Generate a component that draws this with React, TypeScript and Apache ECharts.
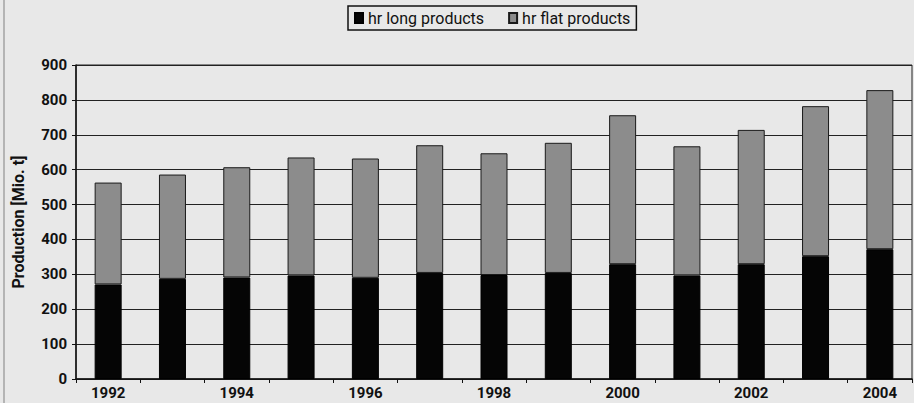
import React, { useEffect, useRef } from "react";
import * as echarts from "echarts";

const years = ["1992", "1993", "1994", "1995", "1996", "1997", "1998", "1999", "2000", "2001", "2002", "2003", "2004"];
const longProducts = [271, 287, 291, 297, 290, 304, 298, 304, 329, 297, 329, 352, 372];
const flatProducts = [292, 299, 316, 338, 342, 366, 349, 373, 427, 370, 385, 430, 456];
const yTicks = [0, 100, 200, 300, 400, 500, 600, 700, 800, 900];

const BG = "#e8e8e8";
const FONT = "Roboto, 'DejaVu Sans', sans-serif";

export default function App() {
  const ref = useRef<HTMLDivElement>(null);

  useEffect(() => {
    if (!ref.current) return;
    const chart = echarts.init(ref.current, undefined, { renderer: "svg" });
    chart.setOption({
      animation: false,
      backgroundColor: BG,
      textStyle: { fontFamily: FONT },
      graphic: [
        { type: "rect", left: 3, top: 0, shape: { width: 2, height: 403 }, style: { fill: "#b4b4b4" }, silent: true },
      ],
      legend: {
        left: 348,
        top: 6,
        padding: [4, 6, 4, 6],
        itemGap: 24,
        itemWidth: 8,
        itemHeight: 10,
        borderColor: "#111",
        borderWidth: 1.5,
        icon: "rect",
        textStyle: { fontFamily: FONT, fontSize: 16, color: "#111" },
        data: ["hr long products", "hr flat products"],
      },
      grid: {
        left: 76,
        right: 2,
        top: 65,
        bottom: 24,
        show: true,
        borderColor: "#222",
        borderWidth: 1,
        backgroundColor: "transparent",
        containLabel: false,
      },
      xAxis: {
        type: "category",
        data: years,
        boundaryGap: true,
        axisLine: { lineStyle: { color: "#111", width: 1.5 } },
        axisTick: { show: true, interval: 0, length: 4, lineStyle: { color: "#111" } },
        axisLabel: {
          interval: 1,
          fontFamily: FONT,
          fontWeight: "bold",
          fontSize: 15,
          color: "#111",
          margin: 6,
        },
      },
      yAxis: {
        type: "value",
        min: yTicks[0],
        max: yTicks[yTicks.length - 1],
        interval: 100,
        name: "Production [Mio. t]",
        nameLocation: "middle",
        nameGap: 50,
        nameTextStyle: { fontFamily: FONT, fontWeight: "bold", fontSize: 16, color: "#111" },
        axisLine: { show: true, lineStyle: { color: "#111", width: 1.5 } },
        axisTick: { show: true, length: 4, lineStyle: { color: "#111" } },
        axisLabel: { fontFamily: FONT, fontWeight: "bold", fontSize: 15, color: "#111", margin: 9 },
        splitLine: { show: true, lineStyle: { color: "#222", width: 1 } },
      },
      series: [
        {
          name: "hr long products",
          type: "bar",
          stack: "total",
          data: longProducts,
          barWidth: 27,
          itemStyle: { color: "#050505", borderColor: "#000", borderWidth: 1 },
        },
        {
          name: "hr flat products",
          type: "bar",
          stack: "total",
          data: flatProducts,
          barWidth: 27,
          itemStyle: { color: "#8c8c8c", borderColor: "#1a1a1a", borderWidth: 1 },
        },
      ],
    });
    return () => chart.dispose();
  }, []);

  return (
    <div
      ref={ref}
      style={{ position: "fixed", left: 0, top: 0, width: 914, height: 403 }}
    />
  );
}
